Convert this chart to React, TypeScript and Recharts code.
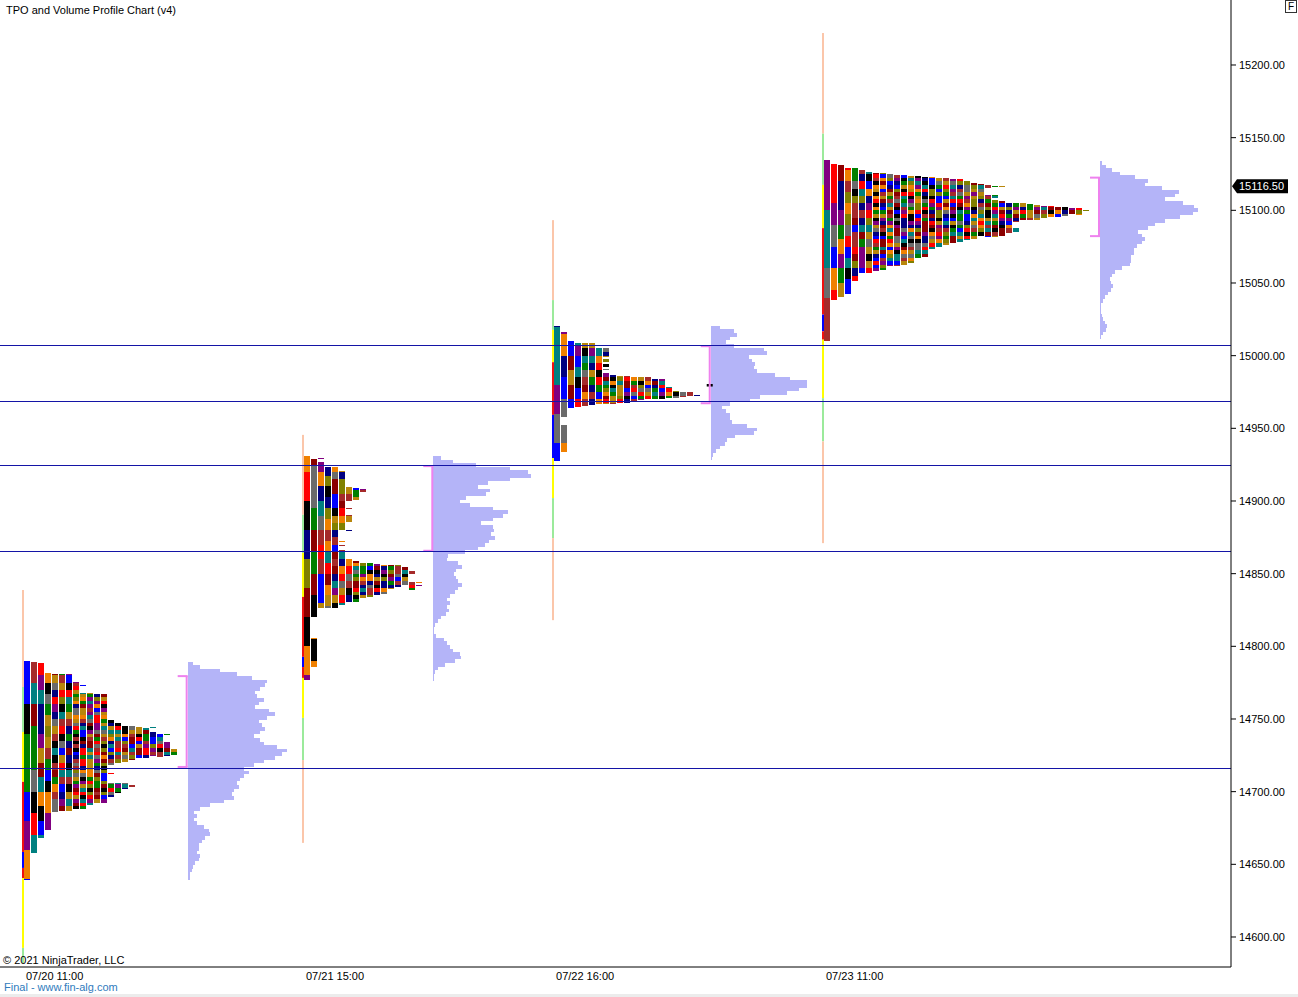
import React from 'react';
import { ComposedChart, XAxis, YAxis, ReferenceArea, ReferenceLine } from 'recharts';

// sessions (x is measured in TPO-column slots along the time axis)
const SESSION_LABELS = ['07/20 11:00', '07/21 15:00', '07/22 16:00', '07/23 11:00'];
const SESSION_X = [3.14, 43.14, 78.86, 117.43];

const PRICE_TICKS = [14600, 14650, 14700, 14750, 14800, 14850, 14900, 14950, 15000, 15050, 15100, 15150, 15200];
const LAST_PRICE = 15116.5;

// naked value-area levels carried forward
const VA_LEVELS = [15007.25, 14968.75, 14924.75, 14865, 14715.75];

// value area [high, low] per session
const VALUE_AREA = [
  [14779.5, 14717],
  [14924, 14865.75],
  [15006.5, 14967.25],
  [15122.5, 15082.25],
];

// session range bar: [top, bottom, kind]
const RANGE_1 = [
  [14838.75, 14772, 'ext'], [14772, 14741, 'ib'], [14741, 14706.75, 'mid'], [14706.75, 14658.5, 'down'],
  [14658.5, 14647.5, 'up'], [14647.5, 14640.5, 'down'], [14640.5, 14592.5, 'mid'], [14592.5, 14582, 'ib'],
];
const RANGE_2 = [
  [14945.5, 14890.5, 'ext'], [14890.5, 14864.25, 'ib'], [14864.25, 14834, 'mid'], [14834, 14792.75, 'down'],
  [14792.75, 14785.75, 'up'], [14785.75, 14778.25, 'down'], [14778.25, 14750.75, 'mid'], [14750.75, 14721.75, 'ib'],
  [14721.75, 14664.75, 'ext'],
];
const RANGE_3 = [
  [15093.25, 15038.25, 'ext'], [15038.25, 15017.75, 'ib'], [15017.75, 14995.5, 'mid'], [14995.5, 14959.25, 'down'],
  [14959.25, 14929.5, 'up'], [14929.5, 14902, 'mid'], [14902, 14874.5, 'ib'], [14874.5, 14818, 'ext'],
];
const RANGE_4 = [
  [15222, 15152.75, 'ext'], [15152.75, 15117.5, 'ib'], [15117.5, 15087.75, 'mid'], [15087.75, 15028.25, 'down'],
  [15028.25, 15016.75, 'up'], [15016.75, 15011, 'down'], [15011, 14970.75, 'mid'], [14970.75, 14941, 'ib'],
  [14941, 14871, 'ext'],
];
const RANGES = [RANGE_1, RANGE_2, RANGE_3, RANGE_4];

// TPO profile: per column, list of [high, low] price segments
const TPO_1 = [
  [[14790, 14639.25]],
  [[14789.25, 14657.75]],
  [[14788.5, 14668]],
  [[14781.5, 14673.5]],
  [[14781, 14686]],
  [[14781, 14686.5]],
  [[14781, 14686.5]],
  [[14775.5, 14688]],
  [[14773.5, 14772.75], [14768, 14688]],
  [[14768, 14690.75]],
  [[14767.25, 14692.25]],
  [[14767.25, 14692.25]],
  [[14749.25, 14718.5], [14713, 14712], [14706, 14696.25]],
  [[14747.25, 14719.75], [14706, 14699]],
  [[14745.25, 14720.5], [14706, 14701.75]],
  [[14745.25, 14721.75], [14704.5, 14703.5]],
  [[14744.5, 14723.25]],
  [[14743.75, 14723.25]],
  [[14744.5, 14743.5], [14741, 14724.5]],
  [[14739.75, 14724]],
  [[14739.75, 14739], [14734.5, 14724.5]],
  [[14729.5, 14725]],
];
const TPO_2 = [
  [[14931, 14776.75]],
  [[14929, 14820.25], [14805.75, 14785.75]],
  [[14929.5, 14928.75], [14926.75, 14826.5]],
  [[14923.5, 14826.5]],
  [[14923.5, 14826.5]],
  [[14920.5, 14880], [14872.5, 14871.75], [14870, 14869], [14866.25, 14828.5]],
  [[14909.5, 14900], [14895.25, 14894.5], [14890.5, 14885.5], [14880, 14879.25], [14860, 14830.5]],
  [[14909, 14900.75], [14858.75, 14830.5]],
  [[14908.25, 14906.25], [14857.25, 14833.25]],
  [[14857.25, 14834]],
  [[14856.75, 14835.25]],
  [[14856, 14836]],
  [[14856, 14839.5]],
  [[14856, 14840.75]],
  [[14854.5, 14842.25]],
  [[14851.75, 14849.75], [14844.25, 14839]],
  [[14844, 14843.25], [14842, 14841.25]],
];
const TPO_3 = [
  [[15020.5, 14927.75]],
  [[15016.25, 14958], [14952.25, 14934]],
  [[15010.25, 14964.25]],
  [[15008.5, 14965]],
  [[15008.5, 14965.5]],
  [[15008.5, 14966]],
  [[15005, 14966.5]],
  [[15005.5, 14999.25], [14997.75, 14995.75], [14994.25, 14992.5], [14991, 14990.25], [14988.25, 14966.75]],
  [[14986.75, 14966.75]],
  [[14986, 14967.25]],
  [[14986, 14967.25]],
  [[14985.5, 14969]],
  [[14985.5, 14969.5]],
  [[14985.5, 14970]],
  [[14984, 14970]],
  [[14983.75, 14970.5]],
  [[14978.5, 14970.75]],
  [[14976, 14971]],
  [[14975.25, 14971.75]],
  [[14975, 14972.25]],
  [[14973, 14972.25]],
];
const TPO_4 = [
  [[15134.5, 15010.25]],
  [[15132, 15038.25]],
  [[15131.25, 15040.25]],
  [[15129, 15042.5]],
  [[15129, 15051.5]],
  [[15127.75, 15056.75]],
  [[15126.5, 15057]],
  [[15126, 15058.5]],
  [[15125.5, 15059]],
  [[15125, 15061.75]],
  [[15124.5, 15061.75]],
  [[15124, 15062.5]],
  [[15123.5, 15063.5]],
  [[15123.5, 15067]],
  [[15123, 15067.75]],
  [[15122.75, 15073.25]],
  [[15122.25, 15075]],
  [[15122, 15076]],
  [[15121.75, 15077.25]],
  [[15121.5, 15078.5]],
  [[15120.5, 15079.5]],
  [[15118.5, 15080.25]],
  [[15118, 15082]],
  [[15117.5, 15115.25], [15110.5, 15081.5]],
  [[15117, 15116.25], [15110.5, 15108.5], [15107, 15081.5]],
  [[15116.75, 15116], [15106.5, 15082.25]],
  [[15105.25, 15084.5]],
  [[15105.25, 15092.25], [15087.75, 15085.25]],
  [[15104.75, 15093.25]],
  [[15104.5, 15093]],
  [[15103.75, 15093.25]],
  [[15103, 15094.5]],
  [[15103, 15095.25]],
  [[15102.5, 15095.5]],
  [[15102.5, 15096]],
  [[15101.75, 15097.5]],
  [[15101.5, 15096.75]],
  [[15100.5, 15099.75]],
];
const TPOS = [TPO_1, TPO_2, TPO_3, TPO_4];

// developing marker next to session 3 profile [high, low]
const MARK_3 = [14980.5, 14978.75];

// volume profile: top price of each session and volume per 2.5pt row (top down)
const VP_TOP = [14789.5, 14931, 15020.5, 15134];
const VOL_1 = [
  5.6, 12, 32, 49, 64, 79, 77, 72, 67, 69, 76, 71, 67, 81, 87, 79, 71, 74, 77, 72,
  66, 72, 76, 89, 99, 94, 87, 76, 66, 56, 61, 56, 52, 49, 51, 46, 44, 46, 36, 22,
  12, 6, 9, 6, 9, 16, 21, 22, 17, 14, 11, 11, 9, 12, 11, 7, 5, 4, 2.5, 2,
];
const VOL_2 = [
  8, 20, 43, 77, 95, 98, 77, 55, 45, 57, 53, 33, 27, 37, 60, 75, 70, 60, 48, 60,
  61, 58, 62, 56, 52, 45, 32, 15, 14, 25, 29, 23, 21, 23, 25, 29, 25, 22, 17, 14,
  17, 14, 16, 13, 8, 5, 2, 1, 1, 3, 11, 14, 17, 20, 27, 28, 22, 12, 5, 2, 1, 0.5,
];
const VOL_3 = [
  9, 23, 26, 19, 15, 23, 53, 56, 38, 41, 44, 43, 46, 64, 79, 96, 96, 88, 76, 49,
  39, 19, 11, 15, 19, 19, 21, 36, 46, 43, 24, 16, 14, 9, 5, 2, 1,
];
const VOL_4 = [
  2, 6, 12, 20, 35, 48, 45, 62, 79, 75, 65, 83, 94, 98, 93, 80, 65, 55, 48, 38,
  42, 45, 42, 37, 34, 34, 31, 31, 30, 22, 15, 12, 10, 11, 13, 11, 8, 5, 3, 1.5,
  1, 1.5, 2, 3, 5, 7, 6, 3, 1.5,
];
const VOLUMES = [VOL_1, VOL_2, VOL_3, VOL_4];

// ---- layout / style ----
const W = 1298;
const H = 997;
const X_MAX = 1231 / 7;
const Y_DOMAIN = [14579.35, 15244.72];
const ROW = 2.5;
const PX = 1 / 7; // one pixel in slot units
const LINE_W = 2 * PX;
const CELL_W = 6 * PX;
const VP_OFFSET = [23.67, 18.76, 22.67, 39.71];
const VOL_SCALE = PX;
const FONT = '"Liberation Sans", Arial, sans-serif';

const RANGE_COLORS: Record<string, string> = {
  ext: '#fbc6aa',
  ib: '#9bea9b',
  mid: '#ffff00',
  down: '#f01010',
  up: '#0000ff',
};
const PALETTE = [
  '#000080', '#8b0000', '#808000', '#008080', '#800080', '#000000', '#6b6b6b',
  '#ff0000', '#0000ff', '#008000', '#f08000', '#b8860b', '#a52a2a',
];
const VP_FILL = '#b4b4f8';
const VA_COLOR = '#ee82ee';
const LEVEL_COLOR = '#1414a6';

// letter colour for a TPO cell
const pick = (s: number, k: number, r: number) => {
  let h = Math.imul(s + 11, 374761393) ^ Math.imul(k + 7, 668265263) ^ Math.imul(r + 3, 1274126177);
  h = Math.imul(h ^ (h >>> 15), 2246822519);
  h ^= h >>> 13;
  return PALETTE[(h >>> 0) % PALETTE.length];
};

const runLength = (k: number) => (k === 0 ? 8 : k === 1 ? 6 : k === 2 ? 4 : k === 3 ? 3 : k < 7 ? 2 : 1);

const tpoCells = (cols: number[][][], s: number) => {
  const out: { k: number; top: number; bottom: number; color: string }[] = [];
  cols.forEach((segs, k) => {
    const step = ROW * runLength(k);
    segs.forEach(([hi, lo]) => {
      let top = hi;
      while (top > lo + 1e-6) {
        const grid = Math.floor((top - 1e-6) / step) * step;
        const bottom = Math.max(grid, lo);
        out.push({ k, top, bottom, color: pick(s, k, Math.round(grid / step)) });
        top = bottom;
      }
    });
  });
  return out;
};

const TimeTick = (props: any) => {
  const { x, y, payload } = props;
  const i = SESSION_X.indexOf(payload.value);
  return (
    <text x={x + 4} y={y + 5} fontSize={11} fill="#000" fontFamily={FONT}>
      {SESSION_LABELS[i]}
    </text>
  );
};

const PriceTag = (props: any) => {
  const { viewBox } = props;
  const x = viewBox.x + viewBox.width;
  const y = viewBox.y;
  return (
    <g>
      <path d={`M${x + 1},${y} L${x + 6},${y - 7} H${x + 57} V${y + 7} H${x + 6} Z`} fill="#000" />
      <text x={x + 8} y={y + 4} fontSize={11} fill="#fff" fontFamily={FONT}>
        {LAST_PRICE.toFixed(2)}
      </text>
    </g>
  );
};

const App: React.FC = () => {
  const cells = TPOS.map((cols, s) => tpoCells(cols, s));

  return (
    <div style={{ position: 'absolute', left: 0, top: 0, width: W, height: H, background: '#fff', fontFamily: FONT }}>
      <ComposedChart width={W} height={H} margin={{ top: 0, right: 0, bottom: 0, left: 0 }} style={{ fontFamily: FONT }}>
        <XAxis
          type="number"
          dataKey="x"
          domain={[0, X_MAX]}
          allowDataOverflow
          ticks={SESSION_X}
          interval={0}
          tick={<TimeTick />}
          tickLine={false}
          axisLine={{ stroke: '#000' }}
          height={30}
        />
        <YAxis
          type="number"
          orientation="right"
          domain={Y_DOMAIN}
          allowDataOverflow
          ticks={PRICE_TICKS}
          interval={0}
          tickFormatter={(v: number) => v.toFixed(2)}
          tick={{ fill: '#000', fontSize: 11, fontFamily: FONT }}
          tickLine={{ stroke: '#000' }}
          tickSize={5}
          tickMargin={3}
          axisLine={{ stroke: '#000' }}
          width={67}
        />

        {/* volume profiles */}
        {VOLUMES.map((vols, s) =>
          vols.map((v, i) => {
            const x0 = SESSION_X[s] + VP_OFFSET[s];
            return (
              <ReferenceArea
                key={`vp-${s}-${i}`}
                x1={x0}
                x2={x0 + v * VOL_SCALE}
                y1={VP_TOP[s] - ROW * (i + 1)}
                y2={VP_TOP[s] - ROW * i}
                fill={VP_FILL}
                fillOpacity={1}
                stroke="none"
                shapeRendering="crispEdges"
              />
            );
          })
        )}

        {/* TPO letters */}
        {cells.map((list, s) =>
          list.map((c, j) => {
            const x0 = SESSION_X[s] + LINE_W + c.k;
            return (
              <ReferenceArea
                key={`tpo-${s}-${j}`}
                x1={x0}
                x2={x0 + CELL_W}
                y1={c.bottom}
                y2={c.top}
                fill={c.color}
                fillOpacity={1}
                stroke="none"
                shapeRendering="crispEdges"
              />
            );
          })
        )}

        <ReferenceArea
          x1={SESSION_X[2] + 22.1}
          x2={SESSION_X[2] + 22.96}
          y1={MARK_3[1]}
          y2={MARK_3[0]}
          fill="#000"
          fillOpacity={1}
          stroke="none"
        />

        {/* session range bars */}
        {RANGES.map((segs, s) =>
          segs.map(([top, bottom, kind], i) => (
            <ReferenceLine
              key={`rng-${s}-${i}`}
              segment={[
                { x: SESSION_X[s] + PX, y: top as number },
                { x: SESSION_X[s] + PX, y: bottom as number },
              ]}
              stroke={RANGE_COLORS[kind as string]}
              strokeWidth={2}
            />
          ))
        )}

        {/* value area brackets */}
        {VALUE_AREA.map(([hi, lo], s) => {
          const x0 = SESSION_X[s] + VP_OFFSET[s];
          return (
            <React.Fragment key={`va-${s}`}>
              <ReferenceLine segment={[{ x: x0 - PX, y: hi }, { x: x0 - PX, y: lo }]} stroke={VA_COLOR} strokeWidth={2} />
              <ReferenceLine segment={[{ x: x0 - 10 * PX, y: hi }, { x: x0, y: hi }]} stroke={VA_COLOR} strokeWidth={2} />
              <ReferenceLine segment={[{ x: x0 - 10 * PX, y: lo }, { x: x0, y: lo }]} stroke={VA_COLOR} strokeWidth={2} />
            </React.Fragment>
          );
        })}

        {VA_LEVELS.map((p) => (
          <ReferenceLine key={`lvl-${p}`} y={p} stroke={LEVEL_COLOR} strokeWidth={1} shapeRendering="crispEdges" />
        ))}

        <ReferenceLine y={LAST_PRICE} stroke="none" label={<PriceTag />} />
      </ComposedChart>

      <div style={{ position: 'absolute', left: 6, top: 4, fontSize: 11, lineHeight: '13px', color: '#000' }}>
        TPO and Volume Profile Chart (v4)
      </div>
      <div style={{ position: 'absolute', left: 3, top: 954, fontSize: 11, lineHeight: '13px', color: '#000' }}>
        © 2021 NinjaTrader, LLC
      </div>
      <div style={{ position: 'absolute', left: 4, top: 981, fontSize: 11, lineHeight: '13px', color: '#2f7bbd' }}>
        Final - www.fin-alg.com
      </div>
      <div
        style={{
          position: 'absolute',
          left: 1285,
          top: 0,
          width: 10,
          height: 11,
          border: '1px solid #333',
          fontSize: 10,
          lineHeight: '11px',
          textAlign: 'center',
          color: '#000',
          background: '#fff',
        }}
      >
        F
      </div>
      <div style={{ position: 'absolute', left: 0, top: 994, width: W, height: 3, background: '#ececec' }} />
    </div>
  );
};

export default App;
